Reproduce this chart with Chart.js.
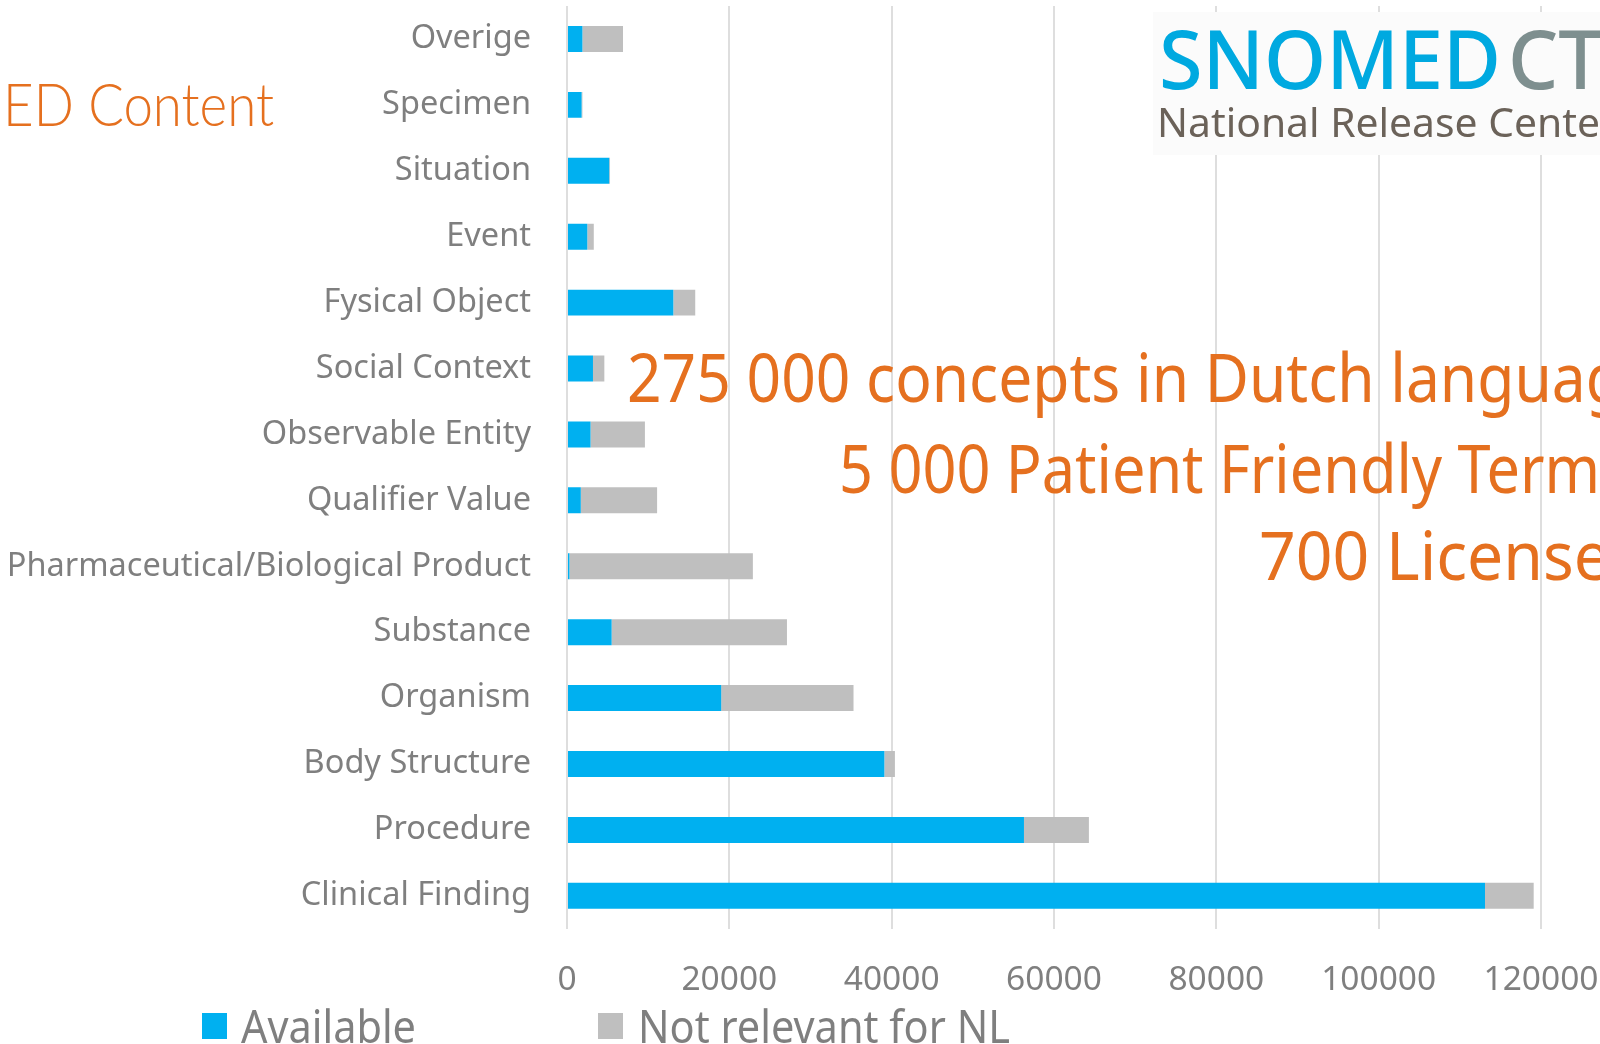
<!DOCTYPE html>
<html>
<head>
<meta charset="utf-8">
<script src="https://cdn.jsdelivr.net/npm/chart.js@4.4.1/dist/chart.umd.min.js"></script>
<style>
  html, body { margin: 0; padding: 0; background: #fff; }
  #wrap { position: relative; width: 1600px; height: 1044px; }
</style>
</head>
<body>
<div id="wrap"><canvas id="chart"></canvas></div>
<script>
// categories, top to bottom
const categories = [
  'Overige', 'Specimen', 'Situation', 'Event', 'Fysical Object', 'Social Context',
  'Observable Entity', 'Qualifier Value', 'Pharmaceutical/Biological Product',
  'Substance', 'Organism', 'Body Structure', 'Procedure', 'Clinical Finding'
];
const available = [1900, 1800, 5200, 2500, 13100, 3200, 2900, 1700, 300, 5500, 19000, 39100, 56300, 113100];
const notRelevant = [5000, 100, 100, 800, 2700, 1400, 6700, 9400, 22600, 21600, 16300, 1300, 8000, 6000];
const seriesNames = ['Available', 'Not relevant for NL'];
const seriesColors = ['#00b0f0', '#bfbfbf'];
const xTicks = [0, 20000, 40000, 60000, 80000, 100000, 120000];

const orange = '#e5701f';
const labelGray = '#7f7f7f';

// draws text scaled horizontally so that `prefix` takes `width` pixels
function fitText(ctx, text, x, y, font, color, width, prefix) {
  ctx.save();
  ctx.font = font;
  ctx.fillStyle = color;
  ctx.textAlign = 'left';
  ctx.textBaseline = 'alphabetic';
  const sx = width / ctx.measureText(prefix || text).width;
  ctx.translate(x, y);
  ctx.scale(sx, 1);
  ctx.fillText(text, 0, 0);
  ctx.restore();
  return sx;
}

const overlay = {
  id: 'overlay',
  afterDraw(chart) {
    const ctx = chart.ctx;

    // slide title, cut off on the left
    fitText(ctx, 'ED Content', 3, 126, '300 60px Lato, "Noto Sans"', orange, 271);

    // logo block
    ctx.save();
    ctx.fillStyle = '#fbfbfb';
    ctx.fillRect(1153, 12, 447, 143);
    ctx.restore();
    const logoFont = '500 82px "Noto Sans"';
    const sx = fitText(ctx, 'SNOMED', 1159, 89, logoFont, '#00a9e0', 342);
    ctx.save();
    ctx.font = logoFont;
    const ctW = ctx.measureText('CT').width * sx;
    ctx.restore();
    fitText(ctx, 'CT', 1508, 89, logoFont, '#7e8f8f', ctW);
    fitText(ctx, 'National Release Center', 1157, 137, '40px "Noto Sans"', '#6b6259', 443, 'National Release Cente');

    // key figures
    const big = '68px "Noto Sans"';
    fitText(ctx, '275 000 concepts in Dutch language', 627, 402, big, orange, 996, '275 000 concepts in Dutch languag');
    fitText(ctx, '5 000 Patient Friendly Terms', 839, 493, big, orange, 761, '5 000 Patient Friendly Term');
    fitText(ctx, '700 Licensees', 1259, 580, big, orange, 351, '700 License');

    // legend
    const keys = [
      { box: 202, text: 241, width: 175 },
      { box: 598, text: 638, width: 372 }
    ];
    chart.data.datasets.forEach((ds, i) => {
      ctx.save();
      ctx.fillStyle = ds.backgroundColor;
      ctx.fillRect(keys[i].box, 1013, 25, 26);
      ctx.restore();
      fitText(ctx, ds.label, keys[i].text, 1043, '46px "Noto Sans"', labelGray, keys[i].width);
    });
  }
};

new Chart(document.getElementById('chart'), {
  type: 'bar',
  data: {
    labels: categories,
    datasets: [
      { label: seriesNames[0], data: available, backgroundColor: seriesColors[0] },
      { label: seriesNames[1], data: notRelevant, backgroundColor: seriesColors[1] }
    ]
  },
  options: {
    indexAxis: 'y',
    responsive: true,
    maintainAspectRatio: false,
    animation: false,
    categoryPercentage: 1,
    barPercentage: 0.394,
    layout: { padding: { left: 10, right: 59, top: 6, bottom: 12 } },
    plugins: {
      legend: { display: false },
      tooltip: { enabled: false }
    },
    scales: {
      x: {
        stacked: true,
        min: 0,
        max: 120000,
        afterBuildTicks: (axis) => { axis.ticks = xTicks.map(v => ({ value: v })); },
        // keep the plot edge where the layout padding puts it
        afterFit: (axis) => { axis.paddingLeft = 0; axis.paddingRight = 0; },
        grid: { color: '#dedede', lineWidth: 2, drawTicks: false },
        border: { display: false },
        ticks: {
          padding: 31.5,
          color: labelGray,
          font: { family: '"Noto Sans"', size: 33.5 },
          callback: (v) => String(v)
        }
      },
      y: {
        stacked: true,
        grid: { display: false, drawTicks: false },
        border: { display: false },
        afterFit: (axis) => { axis.width = 557; axis.paddingTop = 0; axis.paddingBottom = 0; },
        ticks: {
          padding: 36,
          color: labelGray,
          font: { family: '"Noto Sans"', size: 32.5 }
        }
      }
    }
  },
  plugins: [overlay]
});
</script>
</body>
</html>
